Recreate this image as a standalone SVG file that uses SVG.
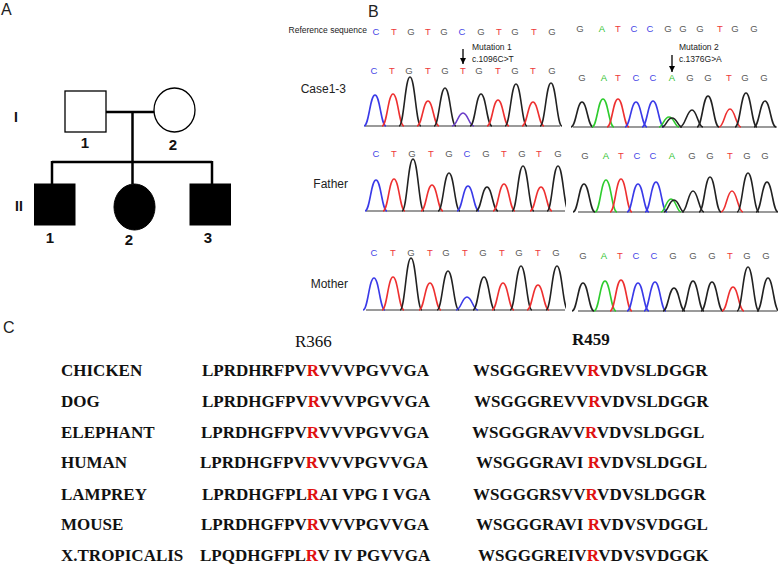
<svg xmlns="http://www.w3.org/2000/svg" width="778" height="565" viewBox="0 0 778 565">
<style>
.lbl{font-family:"Liberation Sans",Arial,sans-serif;font-size:16px;fill:#222}
.ped{stroke:#000;stroke-width:2.5;fill:none}
.open{fill:#fff;stroke:#000;stroke-width:1.3}
.aff{fill:#000;stroke:#000;stroke-width:1}
.pn{font-family:"Liberation Sans",Arial,sans-serif;font-size:15px;font-weight:bold;fill:#111;text-anchor:middle}
.gen{font-family:"Liberation Sans",Arial,sans-serif;font-size:14px;font-weight:bold;fill:#111;text-anchor:middle}
.row{font-family:"Liberation Sans",Arial,sans-serif;font-size:12px;fill:#222;text-anchor:end}
.small{font-family:"Liberation Sans",Arial,sans-serif;font-size:8.5px;fill:#222}
.b{font-family:"Liberation Sans",Arial,sans-serif;font-size:9.5px;text-anchor:middle}
.C{fill:#4646e6}.T{fill:#ee3a3a}.G{fill:#5a5a5a}.A{fill:#2fc42f}
.pk{fill:none;stroke-width:1.6}
.pC{stroke:#3a3ae8}.pT{stroke:#ee3030}.pG{stroke:#222}.pA{stroke:#2ecc2e}.pM{stroke:#6a3cc8}
.base{stroke:#9a9a9a;stroke-width:2}
.seq{font-family:"Liberation Serif","Times New Roman",serif;font-size:17px;font-weight:bold;fill:#111}
.red{fill:#e01010}
.hdr{font-family:"Liberation Serif","Times New Roman",serif;font-size:17px;fill:#111}
</style>
<defs>
<marker id="ah" viewBox="0 0 10 10" refX="10" refY="5" markerWidth="6" markerHeight="6" orient="auto" markerUnits="userSpaceOnUse">
<path d="M0,0 L10,5 L0,10 Z" fill="#000"/>
</marker>
<clipPath id="cl"><rect x="360" y="60" width="206" height="260"/></clipPath>
<clipPath id="cr"><rect x="570" y="60" width="208" height="260"/></clipPath>
</defs>
<rect width="778" height="565" fill="#fff"/>

<!-- Panel A -->
<text class="lbl" x="1" y="15">A</text>
<text class="gen" x="16" y="122" font-weight="normal">I</text>
<text class="gen" x="19" y="211" font-weight="normal">II</text>
<g id="connectors">
<line class="ped" x1="106" y1="112" x2="154" y2="112"/>
<line class="ped" x1="132.5" y1="112" x2="132.5" y2="184"/>
<line class="ped" x1="52" y1="162" x2="212" y2="162"/>
<line class="ped" x1="52" y1="161" x2="52" y2="184"/>
<line class="ped" x1="212" y1="161" x2="212" y2="184"/>
</g>
<g id="I-1"><rect class="open" x="65" y="91" width="41" height="41"/><text class="pn" x="85" y="148">1</text></g>
<g id="I-2"><ellipse class="open" cx="174.5" cy="110" rx="20.5" ry="22"/><text class="pn" x="173" y="150">2</text></g>
<g id="II-1"><rect class="aff" x="34.5" y="184" width="40.5" height="41"/><text class="pn" x="50" y="243">1</text></g>
<g id="II-2"><ellipse class="aff" cx="134.5" cy="207" rx="20.5" ry="23"/><text class="pn" x="129" y="245">2</text></g>
<g id="II-3"><rect class="aff" x="190" y="184" width="40.5" height="41"/><text class="pn" x="208" y="243">3</text></g>

<!-- Panel B -->
<text class="lbl" x="368" y="17">B</text>
<text class="small" x="367" y="33" text-anchor="end" font-size="8.5">Reference sequence</text>
<text class="row" x="346" y="93">Case1-3</text>
<text class="row" x="348" y="188">Father</text>
<text class="row" x="348" y="288">Mother</text>

<!-- reference letters -->
<g class="b">
<text x="376" y="35" class="b C">C</text><text x="394" y="35" class="b T">T</text><text x="411" y="35" class="b G">G</text><text x="428" y="35" class="b T">T</text><text x="444" y="35" class="b G">G</text><text x="462" y="35" class="b C">C</text><text x="481" y="35" class="b G">G</text><text x="499" y="35" class="b T">T</text><text x="515" y="35" class="b G">G</text><text x="534" y="35" class="b T">T</text><text x="552" y="35" class="b G">G</text>
<text x="580" y="32" class="b G">G</text><text x="602" y="32" class="b A">A</text><text x="618" y="32" class="b T">T</text><text x="634" y="32" class="b C">C</text><text x="650" y="32" class="b C">C</text><text x="668" y="32" class="b G">G</text><text x="683" y="32" class="b G">G</text><text x="700" y="32" class="b G">G</text><text x="720" y="32" class="b T">T</text><text x="735" y="32" class="b G">G</text><text x="754" y="32" class="b G">G</text>
</g>

<!-- mutation annotations -->
<text class="small" x="472" y="50">Mutation 1</text>
<text class="small" x="472" y="62">c.1096C&gt;T</text>
<line x1="463" y1="49" x2="463" y2="64" stroke="#000" stroke-width="1.3" marker-end="url(#ah)"/>
<text class="small" x="679" y="50">Mutation 2</text>
<text class="small" x="679" y="62">c.1376G&gt;A</text>
<line x1="672" y1="55" x2="672" y2="72" stroke="#000" stroke-width="1.3" marker-end="url(#ah)"/>

<!-- Case1-3 letters -->
<g>
<text x="374" y="74" class="b C">C</text><text x="392" y="74" class="b T">T</text><text x="409" y="74" class="b G">G</text><text x="428" y="74" class="b T">T</text><text x="445" y="74" class="b G">G</text><text x="463" y="74" class="b T">T</text><text x="479" y="74" class="b G">G</text><text x="498" y="74" class="b T">T</text><text x="515" y="74" class="b G">G</text><text x="533" y="74" class="b T">T</text><text x="552" y="74" class="b G">G</text>
<text x="582" y="81" class="b G">G</text><text x="604" y="81" class="b A">A</text><text x="618" y="81" class="b T">T</text><text x="636" y="81" class="b C">C</text><text x="653" y="81" class="b C">C</text><text x="672" y="81" class="b A">A</text><text x="690" y="81" class="b G">G</text><text x="708" y="81" class="b G">G</text><text x="729" y="81" class="b T">T</text><text x="745" y="81" class="b G">G</text><text x="764" y="81" class="b G">G</text>
</g>
<!-- Father letters -->
<g>
<text x="376" y="157" class="b C">C</text><text x="394" y="157" class="b T">T</text><text x="412" y="157" class="b G">G</text><text x="431" y="157" class="b T">T</text><text x="449" y="157" class="b G">G</text><text x="467" y="157" class="b C">C</text><text x="486" y="157" class="b G">G</text><text x="504" y="157" class="b T">T</text><text x="522" y="157" class="b G">G</text><text x="539" y="157" class="b T">T</text><text x="558" y="157" class="b G">G</text>
<text x="585" y="159" class="b G">G</text><text x="606" y="159" class="b A">A</text><text x="621" y="159" class="b T">T</text><text x="637" y="159" class="b C">C</text><text x="653" y="159" class="b C">C</text><text x="672" y="159" class="b A">A</text><text x="692" y="159" class="b G">G</text><text x="710" y="159" class="b G">G</text><text x="730" y="159" class="b T">T</text><text x="747" y="159" class="b G">G</text><text x="765" y="159" class="b G">G</text>
</g>
<!-- Mother letters -->
<g>
<text x="374" y="256" class="b C">C</text><text x="393" y="256" class="b T">T</text><text x="411" y="256" class="b G">G</text><text x="430" y="256" class="b T">T</text><text x="446" y="256" class="b G">G</text><text x="465" y="256" class="b T">T</text><text x="483" y="256" class="b G">G</text><text x="502" y="256" class="b T">T</text><text x="519" y="256" class="b G">G</text><text x="538" y="256" class="b T">T</text><text x="556" y="256" class="b G">G</text>
<text x="583" y="259" class="b G">G</text><text x="604" y="259" class="b A">A</text><text x="620" y="259" class="b T">T</text><text x="636" y="259" class="b C">C</text><text x="654" y="259" class="b C">C</text><text x="673" y="259" class="b G">G</text><text x="693" y="259" class="b G">G</text><text x="712" y="259" class="b G">G</text><text x="730" y="259" class="b T">T</text><text x="747" y="259" class="b G">G</text><text x="766" y="259" class="b G">G</text>
</g>

<!-- baselines -->
<line class="base" x1="365" y1="126" x2="560" y2="126"/>
<line class="base" x1="573" y1="127" x2="777" y2="127"/>
<line class="base" x1="366" y1="211" x2="565" y2="211"/>
<line class="base" x1="578" y1="212" x2="777" y2="212"/>
<line class="base" x1="366" y1="310" x2="565" y2="310"/>
<line class="base" x1="578" y1="311" x2="777" y2="311"/>

<!-- Case1-3 left peaks (b=126) -->
<g clip-path="url(#cl)">
<path class="pk pC" d="M364,126 C369,126 370,95 375,95 S381,126 386,126"/>
<path class="pk pT" d="M382,126 C387,126 388,94 393,94 S399,126 404,126"/>
<path class="pk pG" d="M399,126 C404,126 405,77 410,77 S416,126 421,126"/>
<path class="pk pT" d="M417,126 C422,126 423,101 428,101 S434,126 439,126"/>
<path class="pk pG" d="M434,126 C439,126 440,88 445,88 S451,126 456,126"/>
<path class="pk pM" d="M452,126 C457,126 458,113 463,113 S469,126 474,126"/>
<path class="pk pG" d="M470,126 C475,126 476,94 481,94 S487,126 492,126"/>
<path class="pk pT" d="M487,126 C492,126 493,100 498,100 S504,126 509,126"/>
<path class="pk pG" d="M505,126 C510,126 511,84 516,84 S522,126 527,126"/>
<path class="pk pT" d="M522,126 C527,126 528,102 533,102 S539,126 544,126"/>
<path class="pk pG" d="M540,126 C545,126 546,83 551,83 S557,126 562,126"/>
</g>
<!-- Case1-3 right peaks (b=127) -->
<g clip-path="url(#cr)">
<path class="pk pG" d="M571,127 C576,127 577,102 582,102 S588,127 593,127"/>
<path class="pk pA" d="M592,127 C597,127 598,99 603,99 S609,127 614,127"/>
<path class="pk pT" d="M607,127 C612,127 613,99 618,99 S624,127 629,127"/>
<path class="pk pC" d="M625,127 C630,127 631,102 636,102 S642,127 647,127"/>
<path class="pk pC" d="M642,127 C647,127 648,101 653,101 S659,127 664,127"/>
<path class="pk pA" d="M659,127 C663,127 664,117 669,117 S675,127 679,127"/>
<path class="pk pG" d="M662,127 C666,127 667,118 672,118 S678,127 682,127"/>
<path class="pk pG" d="M680,127 C685,127 687,110 692,110 S698,127 703,127"/>
<path class="pk pG" d="M697,127 C702,127 703,96 708,96 S714,127 719,127"/>
<path class="pk pT" d="M719,127 C724,127 725,109 730,109 S736,127 741,127"/>
<path class="pk pG" d="M735,127 C740,127 741,93 746,93 S752,127 757,127"/>
<path class="pk pG" d="M754,127 C759,127 760,101 765,101 S771,127 776,127"/>
</g>
<!-- Father left (b=211) -->
<g clip-path="url(#cl)">
<path class="pk pC" d="M365,211 C370,211 371,180 376,180 S382,211 387,211"/>
<path class="pk pT" d="M383,211 C388,211 389,179 394,179 S400,211 405,211"/>
<path class="pk pG" d="M402,211 C407,211 408,159 413,159 S419,211 424,211"/>
<path class="pk pT" d="M421,211 C426,211 427,185 432,185 S438,211 443,211"/>
<path class="pk pG" d="M438,211 C443,211 444,173 449,173 S455,211 460,211"/>
<path class="pk pC" d="M457,211 C462,211 463,186 468,186 S474,211 479,211"/>
<path class="pk pG" d="M476,211 C481,211 482,187 487,187 S493,211 498,211"/>
<path class="pk pT" d="M493,211 C498,211 499,184 504,184 S510,211 515,211"/>
<path class="pk pG" d="M512,211 C517,211 518,166 523,166 S529,211 534,211"/>
<path class="pk pT" d="M530,211 C535,211 536,187 541,187 S547,211 552,211"/>
<path class="pk pG" d="M547,211 C552,211 553,166 558,166 S564,211 569,211"/>
</g>
<!-- Father right (b=212) -->
<g clip-path="url(#cr)">
<path class="pk pG" d="M573,212 C578,212 579,184 584,184 S590,212 595,212"/>
<path class="pk pA" d="M595,212 C600,212 601,180 606,180 S612,212 617,212"/>
<path class="pk pT" d="M610,212 C615,212 616,179 621,179 S627,212 632,212"/>
<path class="pk pC" d="M627,212 C632,212 633,184 638,184 S644,212 649,212"/>
<path class="pk pC" d="M645,212 C650,212 651,182 656,182 S662,212 667,212"/>
<path class="pk pA" d="M661,212 C665,212 666,199 671,199 S677,212 681,212"/>
<path class="pk pG" d="M664,212 C668,212 669,200 674,200 S680,212 684,212"/>
<path class="pk pG" d="M682,212 C687,212 688,191 693,191 S699,212 704,212"/>
<path class="pk pG" d="M699,212 C704,212 705,177 710,177 S716,212 721,212"/>
<path class="pk pT" d="M721,212 C726,212 727,191 732,191 S738,212 743,212"/>
<path class="pk pG" d="M737,212 C742,212 743,173 748,173 S754,212 759,212"/>
<path class="pk pG" d="M756,212 C761,212 762,182 767,182 S773,212 778,212"/>
</g>
<!-- Mother left (b=310) -->
<g clip-path="url(#cl)">
<path class="pk pC" d="M363,310 C368,310 369,278 374,278 S380,310 385,310"/>
<path class="pk pT" d="M382,310 C387,310 388,277 393,277 S399,310 404,310"/>
<path class="pk pG" d="M400,310 C405,310 406,258 411,258 S417,310 422,310"/>
<path class="pk pT" d="M419,310 C424,310 425,283 430,283 S436,310 441,310"/>
<path class="pk pG" d="M437,310 C442,310 443,271 448,271 S454,310 459,310"/>
<path class="pk pC" d="M456,310 C461,310 462,297 467,297 S473,310 478,310"/>
<path class="pk pG" d="M473,310 C478,310 479,277 484,277 S490,310 495,310"/>
<path class="pk pT" d="M492,310 C497,310 498,283 503,283 S509,310 514,310"/>
<path class="pk pG" d="M510,310 C515,310 516,266 521,266 S527,310 532,310"/>
<path class="pk pT" d="M527,310 C532,310 533,285 538,285 S544,310 549,310"/>
<path class="pk pG" d="M546,310 C551,310 552,266 557,266 S563,310 568,310"/>
</g>
<!-- Mother right (b=311) -->
<g clip-path="url(#cr)">
<path class="pk pG" d="M572,311 C577,311 578,283 583,283 S589,311 594,311"/>
<path class="pk pA" d="M594,311 C599,311 600,281 605,281 S611,311 616,311"/>
<path class="pk pT" d="M610,311 C615,311 616,280 621,280 S627,311 632,311"/>
<path class="pk pC" d="M627,311 C632,311 633,283 638,283 S644,311 649,311"/>
<path class="pk pC" d="M644,311 C649,311 650,282 655,282 S661,311 666,311"/>
<path class="pk pG" d="M663,311 C668,311 669,288 674,288 S680,311 685,311"/>
<path class="pk pG" d="M682,311 C687,311 688,281 693,281 S699,311 704,311"/>
<path class="pk pG" d="M701,311 C706,311 707,282 712,282 S718,311 723,311"/>
<path class="pk pT" d="M722,311 C727,311 728,287 733,287 S739,311 744,311"/>
<path class="pk pG" d="M737,311 C742,311 743,267 748,267 S754,311 759,311"/>
<path class="pk pG" d="M757,311 C762,311 763,278 768,278 S774,311 779,311"/>
</g>

<!-- Panel C -->
<text class="lbl" x="3" y="333">C</text>
<text class="hdr" x="295" y="347">R366</text>
<text class="hdr" x="572" y="345" font-weight="bold">R459</text>

<g class="seq">
<text class="seq" x="61" y="376">CHICKEN</text>
<text class="seq" x="202" y="376">LPRDHRFPV<tspan class="red">R</tspan>VVVPGVVGA</text>
<text class="seq" x="473" y="376">WSGGGREVV<tspan class="red">R</tspan>VDVSLDGGR</text>

<text class="seq" x="61" y="407">DOG</text>
<text class="seq" x="202" y="407">LPRDHGFPV<tspan class="red">R</tspan>VVVPGVVGA</text>
<text class="seq" x="474" y="407">WSGGGREVV<tspan class="red">R</tspan>VDVSLDGGR</text>

<text class="seq" x="61" y="437.5">ELEPHANT</text>
<text class="seq" x="201" y="437.5">LPRDHGFPV<tspan class="red">R</tspan>VVVPGVVGA</text>
<text class="seq" x="472" y="437.5">WSGGGRAVV<tspan class="red">R</tspan>VDVSLDGGL</text>

<text class="seq" x="61" y="468">HUMAN</text>
<text class="seq" x="200" y="468">LPRDHGFPV<tspan class="red">R</tspan>VVVPGVVGA</text>
<text class="seq" x="476" y="468">WSGGGRAVI <tspan class="red">R</tspan>VDVSLDGGL</text>

<text class="seq" x="61" y="499.5">LAMPREY</text>
<text class="seq" x="202" y="499.5">LPRDHGFPL<tspan class="red">R</tspan>AI VPG I VGA</text>
<text class="seq" x="473" y="499.5">WSGGGRSVV<tspan class="red">R</tspan>VDVSLDGGR</text>

<text class="seq" x="61" y="530">MOUSE</text>
<text class="seq" x="201" y="530">LPRDHGFPV<tspan class="red">R</tspan>VVVPGVVGA</text>
<text class="seq" x="476" y="530">WSGGGRAVI <tspan class="red">R</tspan>VDVSVDGGL</text>

<text class="seq" x="61" y="561">X.TROPICALIS</text>
<text class="seq" x="200" y="561">LPQDHGFPL<tspan class="red">R</tspan>V IV PGVVGA</text>
<text class="seq" x="478" y="561">WSGGGREIV<tspan class="red">R</tspan>VDVSVDGGK</text>
</g>
</svg>
